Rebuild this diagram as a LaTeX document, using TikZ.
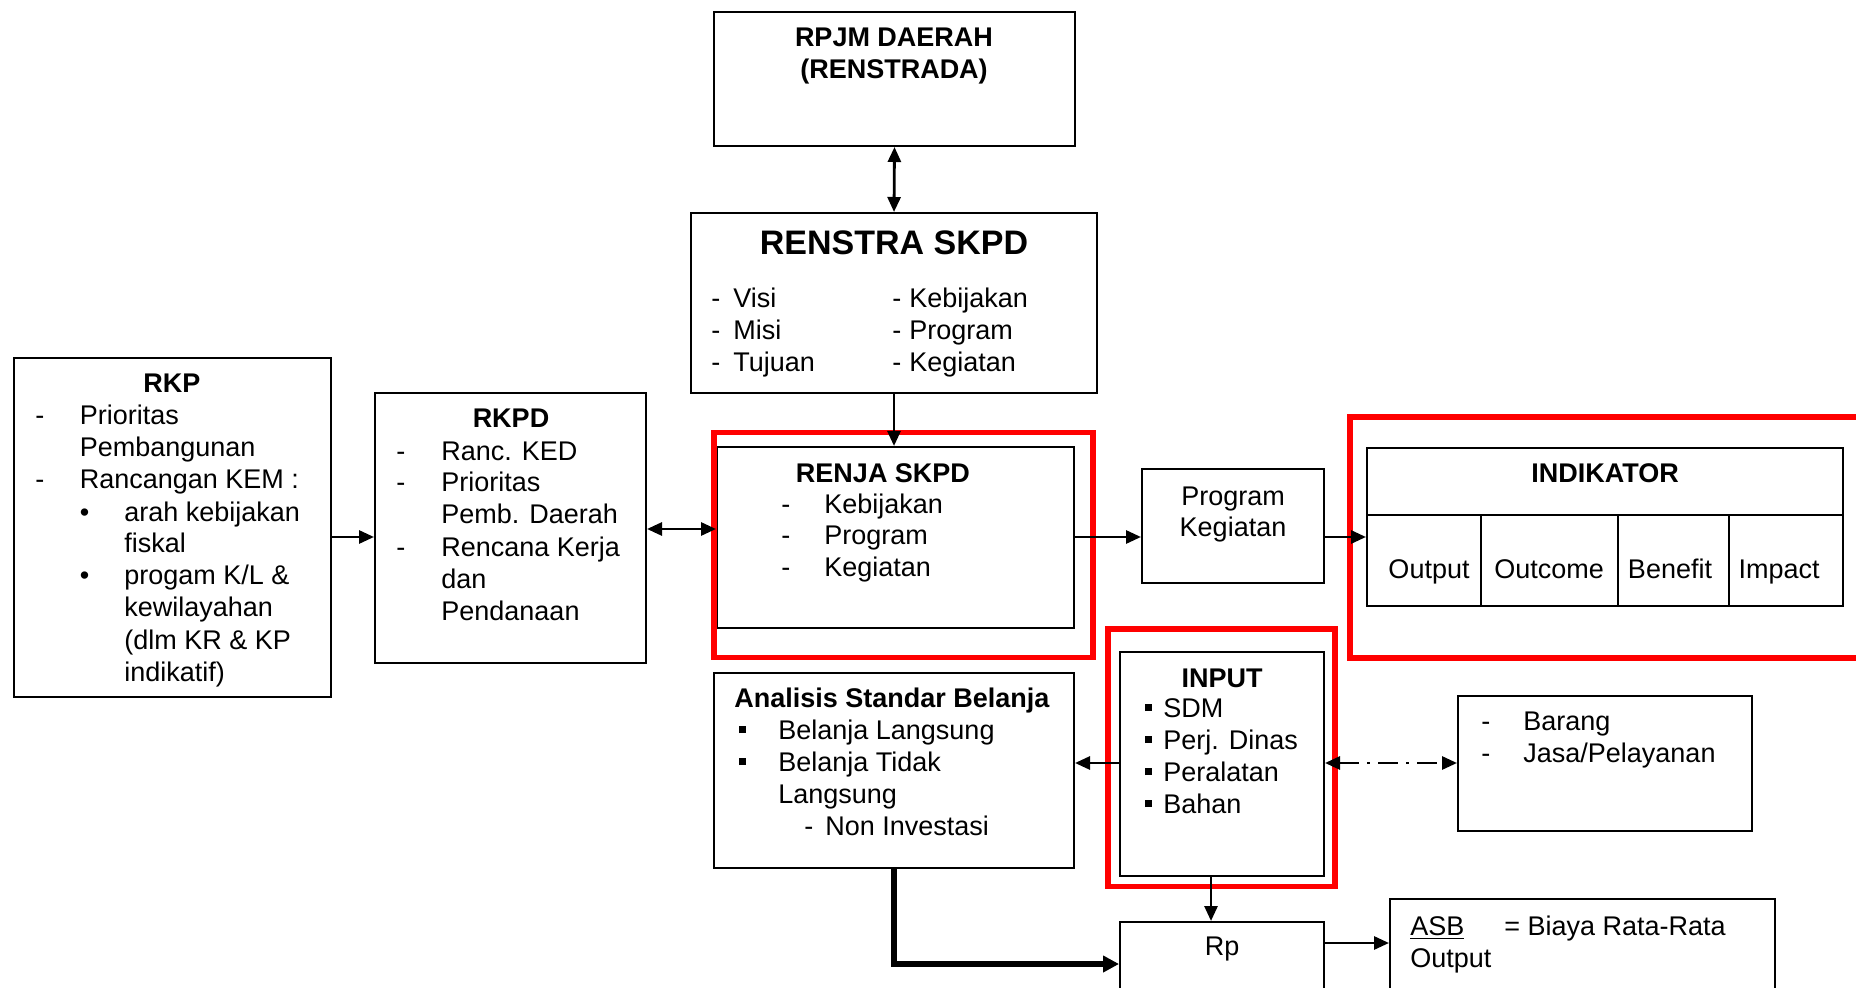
\documentclass[tikz,border=0pt]{standalone}
\usepackage{fontspec}
\setmainfont{Liberation Sans}
\usetikzlibrary{arrows.meta,fit}

\newcommand{\txtsize}{\fontsize{13.5}{16}\selectfont}
\newcommand{\sqbul}{\rule[3pt]{3.5pt}{3.5pt}}

\begin{document}
\begin{tikzpicture}[x=0.5pt, y=-0.5pt,
    >={Triangle[length=7.5pt,width=6.5pt]},
    box/.style={draw, line width=1pt, inner sep=0pt},
    redbox/.style={draw=red, line width=2.8pt, inner sep=0pt},
    txt/.style={inner sep=0pt, anchor=base west, font=\txtsize},
    ttl/.style={inner sep=0pt, anchor=base, font=\txtsize\bfseries},
    arr/.style={line width=1.4pt, ->}]
  \useasboundingbox (0,0) rectangle (1856,988);
  \clip (0,0) rectangle (1856,988);

  % boxes
  \node[box, fit={(714,12) (1075,146)}] (rpjm) {};
  \node[box, fit={(691,213) (1097,393)}] (renstra) {};
  \node[box, fit={(14,358) (331,697)}] (rkp) {};
  \node[box, fit={(375,393) (646,663)}] (rkpd) {};
  \node[box, fit={(717,447) (1074,628)}] (renja) {};
  \node[box, fit={(1142,469) (1324,583)}] (prog) {};
  \node[box, fit={(714,673) (1074,868)}] (analisis) {};
  \node[box, fit={(1120,652) (1324,876)}] (input) {};
  \node[box, fit={(1458,696) (1752,831)}] (barang) {};
  \node[box, fit={(1120,922) (1324,1010)}] (rp) {};
  \node[box, fit={(1390,899) (1775,1010)}] (asbnote) {};

  % indikator table
  \node[box, fit={(1367,448) (1843,515)}] (ind-head) {};
  \foreach \n/\a/\b/\c/\t in {out/1367/1481/1429/Output, outc/1481/1617.5/1549/Outcome,
                              ben/1617.5/1729/1670/Benefit, imp/1729/1843/1779/Impact} {
    \node[box, fit={(\a,515) (\b,606)}] (ind-\n) {};
    \node[txt, anchor=base] (ind-\n-txt) at (\c,578) {\t};
  }

  % red marks
  \node[redbox, fit={(714,432.5) (1093,657.5)}] (renja-mark) {};
  \node[redbox, fit={(1108,629) (1335,886.5)}] (input-mark) {};
  \node[redbox, fit={(1350,417) (1880,658)}] (ind-mark) {};

  % texts
  \node[ttl] (rpjm-txt) at (894,47) {\begin{tabular}[t]{@{}c@{}}RPJM DAERAH\\(RENSTRADA)\end{tabular}};
  \node[ttl, font=\fontsize{17}{20}\selectfont\bfseries] (renstra-ttl) at (894,255) {RENSTRA SKPD};
  \node[txt] (renstra-list) at (711,308) {\begin{tabular}[t]{@{}p{11pt}@{}p{79.5pt}@{}p{8.5pt}@{}l@{}}
    - & Visi & - & Kebijakan\\
    - & Misi & - & Program\\
    - & Tujuan & - & Kegiatan
  \end{tabular}};

  \node[ttl] (rkp-ttl) at (172,393) {RKP};
  \node[txt] (rkp-list) at (35,425) {\begin{tabular}[t]{@{}p{22.25pt}@{}p{22.25pt}@{}l@{}}
    - & \multicolumn{2}{@{}l@{}}{Prioritas}\\
      & \multicolumn{2}{@{}l@{}}{Pembangunan}\\
    - & \multicolumn{2}{@{}l@{}}{Rancangan KEM :}\\
      & \textbullet & arah kebijakan\\
      & & fiskal\\
      & \textbullet & progam K/L \&\\
      & & kewilayahan\\
      & & (dlm KR \& KP\\
      & & indikatif)
  \end{tabular}};

  \node[ttl] (rkpd-ttl) at (511,428) {RKPD};
  \node[txt] (rkpd-list) at (396,460) {\begin{tabular}[t]{@{}p{22.5pt}@{}l@{}}
    - & Ranc. KED\\
    - & Prioritas\\
      & Pemb. Daerah\\
    - & Rencana Kerja\\
      & dan\\
      & Pendanaan
  \end{tabular}};

  \node[ttl] (renja-ttl) at (883,482) {RENJA SKPD};
  \node[txt] (renja-list) at (781,513) {\begin{tabular}[t]{@{}p{21.5pt}@{}l@{}}
    - & Kebijakan\\
    - & Program\\
    - & Kegiatan
  \end{tabular}};

  \node[txt, anchor=base] (prog-txt) at (1233,505) {\begin{tabular}[t]{@{}c@{}}Program\\Kegiatan\end{tabular}};
  \node[ttl] (ind-ttl) at (1605,482) {INDIKATOR};

  \node[txt] (analisis-txt) at (734,707) {\begin{tabular}[t]{@{}p{22pt}@{}l@{}}
    \multicolumn{2}{@{}l@{}}{\bfseries Analisis Standar Belanja}\\
    \hspace{2.5pt}\sqbul & Belanja Langsung\\
    \hspace{2.5pt}\sqbul & Belanja Tidak\\
      & Langsung\\
      & \hspace{13pt}\makebox[10.5pt][l]{-}Non Investasi
  \end{tabular}};

  \node[ttl] (input-ttl) at (1222,687) {INPUT};
  \node[txt] (input-list) at (1145,717) {\begin{tabular}[t]{@{}p{9pt}@{}l@{}}
    \sqbul & SDM\\
    \sqbul & Perj. Dinas\\
    \sqbul & Peralatan\\
    \sqbul & Bahan
  \end{tabular}};

  \node[txt] (barang-list) at (1481,730) {\begin{tabular}[t]{@{}p{21pt}@{}l@{}}
    - & Barang\\
    - & Jasa/Pelayanan
  \end{tabular}};

  \node[txt, anchor=base] (rp-txt) at (1222,955) {Rp};
  \node[txt] (asbnote-txt) at (1410,935) {\begin{tabular}[t]{@{}p{47pt}@{}l@{}}
    \underline{ASB} & = Biaya Rata-Rata\\
    Output &
  \end{tabular}};

  % connectors
  \coordinate (rowtop) at (0,537);
  \coordinate (rowmid) at (0,529);
  \coordinate (rowinput) at (0,763);
  \coordinate (rowrp) at (0,943);
  \coordinate (rowlow) at (0,964);
  \coordinate (colrp) at (1211,0);

  \draw[arr, <->] (rpjm.south) -- (renstra.north);
  \draw[arr] (renstra.south) -- (renstra.south |- renja.north);
  \draw[arr] (rkp.east |- rowtop) -- (rkpd.west |- rowtop);
  \draw[arr, <->] (rkpd.east |- rowmid) -- (renja.west |- rowmid);
  \draw[arr] (renja.east |- rowtop) -- (prog.west |- rowtop);
  \draw[arr] (prog.east |- rowtop) -- (ind-out.west |- rowtop);
  \draw[arr] (input.west |- rowinput) -- (analisis.east |- rowinput);
  \draw[arr, <->, dash pattern=on 10pt off 4pt on 1.5pt off 4pt] (input.east |- rowinput) -- (barang.west |- rowinput);
  \draw[arr] (input.south -| colrp) -- (rp.north -| colrp);
  \draw[arr, line width=3pt, -{Triangle[length=8pt,width=8pt]}] (analisis.south) |- (rp.west |- rowlow);
  \draw[arr] (rp.east |- rowrp) -- (asbnote.west |- rowrp);
\end{tikzpicture}
\end{document}
